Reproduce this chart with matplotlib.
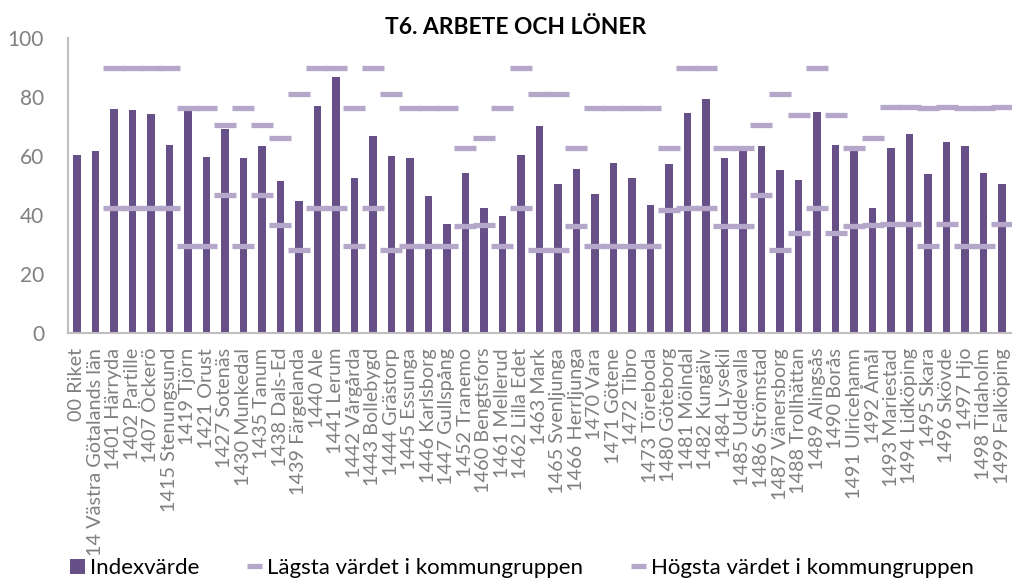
import numpy as np
import matplotlib
matplotlib.use("Agg")
import matplotlib.pyplot as plt
from matplotlib.patches import Patch
from matplotlib.lines import Line2D
from matplotlib.textpath import TextPath
from matplotlib.font_manager import FontProperties

categories = [
    "00 Riket", "14 Västra Götalands län", "1401 Härryda", "1402 Partille", "1407 Öckerö",
    "1415 Stenungsund", "1419 Tjörn", "1421 Orust", "1427 Sotenäs", "1430 Munkedal",
    "1435 Tanum", "1438 Dals-Ed", "1439 Färgelanda", "1440 Ale", "1441 Lerum",
    "1442 Vårgårda", "1443 Bollebygd", "1444 Grästorp", "1445 Essunga", "1446 Karlsborg",
    "1447 Gullspång", "1452 Tranemo", "1460 Bengtsfors", "1461 Mellerud", "1462 Lilla Edet",
    "1463 Mark", "1465 Svenljunga", "1466 Herrljunga", "1470 Vara", "1471 Götene",
    "1472 Tibro", "1473 Töreboda", "1480 Göteborg", "1481 Mölndal", "1482 Kungälv",
    "1484 Lysekil", "1485 Uddevalla", "1486 Strömstad", "1487 Vänersborg", "1488 Trollhättan",
    "1489 Alingsås", "1490 Borås", "1491 Ulricehamn", "1492 Åmål", "1493 Mariestad",
    "1494 Lidköping", "1495 Skara", "1496 Skövde", "1497 Hjo", "1498 Tidaholm",
    "1499 Falköping",
]

index_values = [
    60.5, 61.6, 76.1, 75.7, 74.4, 63.9, 75.5, 59.6, 69.2, 59.2,
    63.3, 51.6, 44.9, 76.9, 86.8, 52.4, 66.7, 59.9, 59.3, 46.5,
    37.0, 54.3, 42.4, 39.5, 60.3, 70.2, 50.6, 55.6, 47.2, 57.8,
    52.7, 43.5, 57.3, 74.6, 79.3, 59.3, 61.7, 63.4, 55.1, 51.9,
    75.0, 63.7, 61.7, 42.5, 62.6, 67.6, 54.0, 64.8, 63.4, 54.3,
    50.6,
]

lowest_in_group = [
    None, None, 42.4, 42.4, 42.4, 42.4, 29.6, 29.6, 46.7, 29.6,
    46.7, 36.7, 28.1, 42.4, 42.4, 29.6, 42.4, 28.1, 29.6, 29.6,
    29.6, 36.1, 36.7, 29.6, 42.4, 28.1, 28.1, 36.1, 29.6, 29.6,
    29.6, 29.6, 41.7, 42.4, 42.4, 36.1, 36.1, 46.7, 28.1, 33.7,
    42.4, 33.7, 36.1, 36.7, 36.8, 36.8, 29.6, 36.8, 29.6, 29.6,
    36.8,
]

highest_in_group = [
    None, None, 90.0, 90.0, 90.0, 90.0, 76.3, 76.3, 70.7, 76.3,
    70.7, 66.3, 81.2, 90.0, 90.0, 76.3, 90.0, 81.2, 76.3, 76.3,
    76.3, 62.7, 66.3, 76.3, 90.0, 81.2, 81.2, 62.7, 76.3, 76.3,
    76.3, 76.3, 62.7, 90.0, 90.0, 62.7, 62.7, 70.7, 81.2, 73.8,
    90.0, 73.8, 62.7, 66.3, 76.6, 76.6, 76.3, 76.6, 76.3, 76.3,
    76.6,
]

series_names = ["Indexvärde", "Lägsta värdet i kommungruppen", "Högsta värdet i kommungruppen"]
title = "T6. ARBETE OCH LÖNER"

FONT = ["Lato", "DejaVu Sans"]
plt.rcParams["font.family"] = FONT
DPI = 100


def fit_size(text, target_px, weight="normal"):
    """Font size (pt) so that `text` is about target_px wide at DPI."""
    fp = FontProperties(family=FONT, weight=weight, size=10)
    w = TextPath((0, 0), text, prop=fp).get_extents().width  # in points at size 10
    w_px = w * DPI / 72.0
    return 10.0 * target_px / w_px


XT_SIZE = fit_size(categories[1], 205)
YT_SIZE = fit_size("100", 34)
TITLE_SIZE = fit_size(title, 260, "bold")
LEG_SIZE = fit_size(series_names[2], 319)

BAR_C = "#675087"
MARK_C = "#B4A7C9"
GRAY = "#808080"

fig = plt.figure(figsize=(10.13, 5.78), dpi=DPI)
ax = fig.add_axes([0.0668, 0.4244, 0.9315, 0.5093])

x = np.arange(len(categories))
lo = np.array([np.nan if v is None else v for v in lowest_in_group], dtype=float)
hi = np.array([np.nan if v is None else v for v in highest_in_group], dtype=float)

ax.bar(x, index_values, width=0.4, color=BAR_C, zorder=2)
ax.plot(x, lo, linestyle="none", marker="_", markersize=16.5, mew=3.8,
        color=MARK_C, zorder=3)
ax.plot(x, hi, linestyle="none", marker="_", markersize=16.5, mew=3.8,
        color=MARK_C, zorder=3)

ax.set_xlim(-0.5, len(categories) - 0.5)
ax.set_ylim(0, 100)
ax.set_yticks([0, 20, 40, 60, 80, 100])
ax.set_xticks(x)
ax.set_xticklabels(categories, rotation=90, fontsize=XT_SIZE, color=GRAY)
ax.tick_params(axis="y", labelsize=YT_SIZE, labelcolor=GRAY, length=0, pad=17)
ax.tick_params(axis="x", length=0, pad=11)
for s in ["top", "right"]:
    ax.spines[s].set_visible(False)
for s in ["left", "bottom"]:
    ax.spines[s].set_color("#BFBFBF")
    ax.spines[s].set_linewidth(1.5)

fig.text(0.509, 0.953, title, ha="center", va="center", fontsize=TITLE_SIZE,
         fontweight="bold", color="black")

handles = [
    Patch(facecolor=BAR_C, edgecolor="none"),
    Line2D([], [], color=MARK_C, lw=3.8, solid_capstyle="butt"),
    Line2D([], [], color=MARK_C, lw=3.8, solid_capstyle="butt"),
]
leg_px = LEG_SIZE * DPI / 72.0
fig.legend(handles, series_names, loc="center left", bbox_to_anchor=(0.069, 0.017),
           ncol=3, frameon=False, fontsize=LEG_SIZE,
           handlelength=15 / leg_px, handleheight=15 / leg_px,
           handletextpad=5 / leg_px, columnspacing=48 / leg_px,
           borderpad=0, borderaxespad=0)

fig.savefig("out.png", dpi=DPI)
